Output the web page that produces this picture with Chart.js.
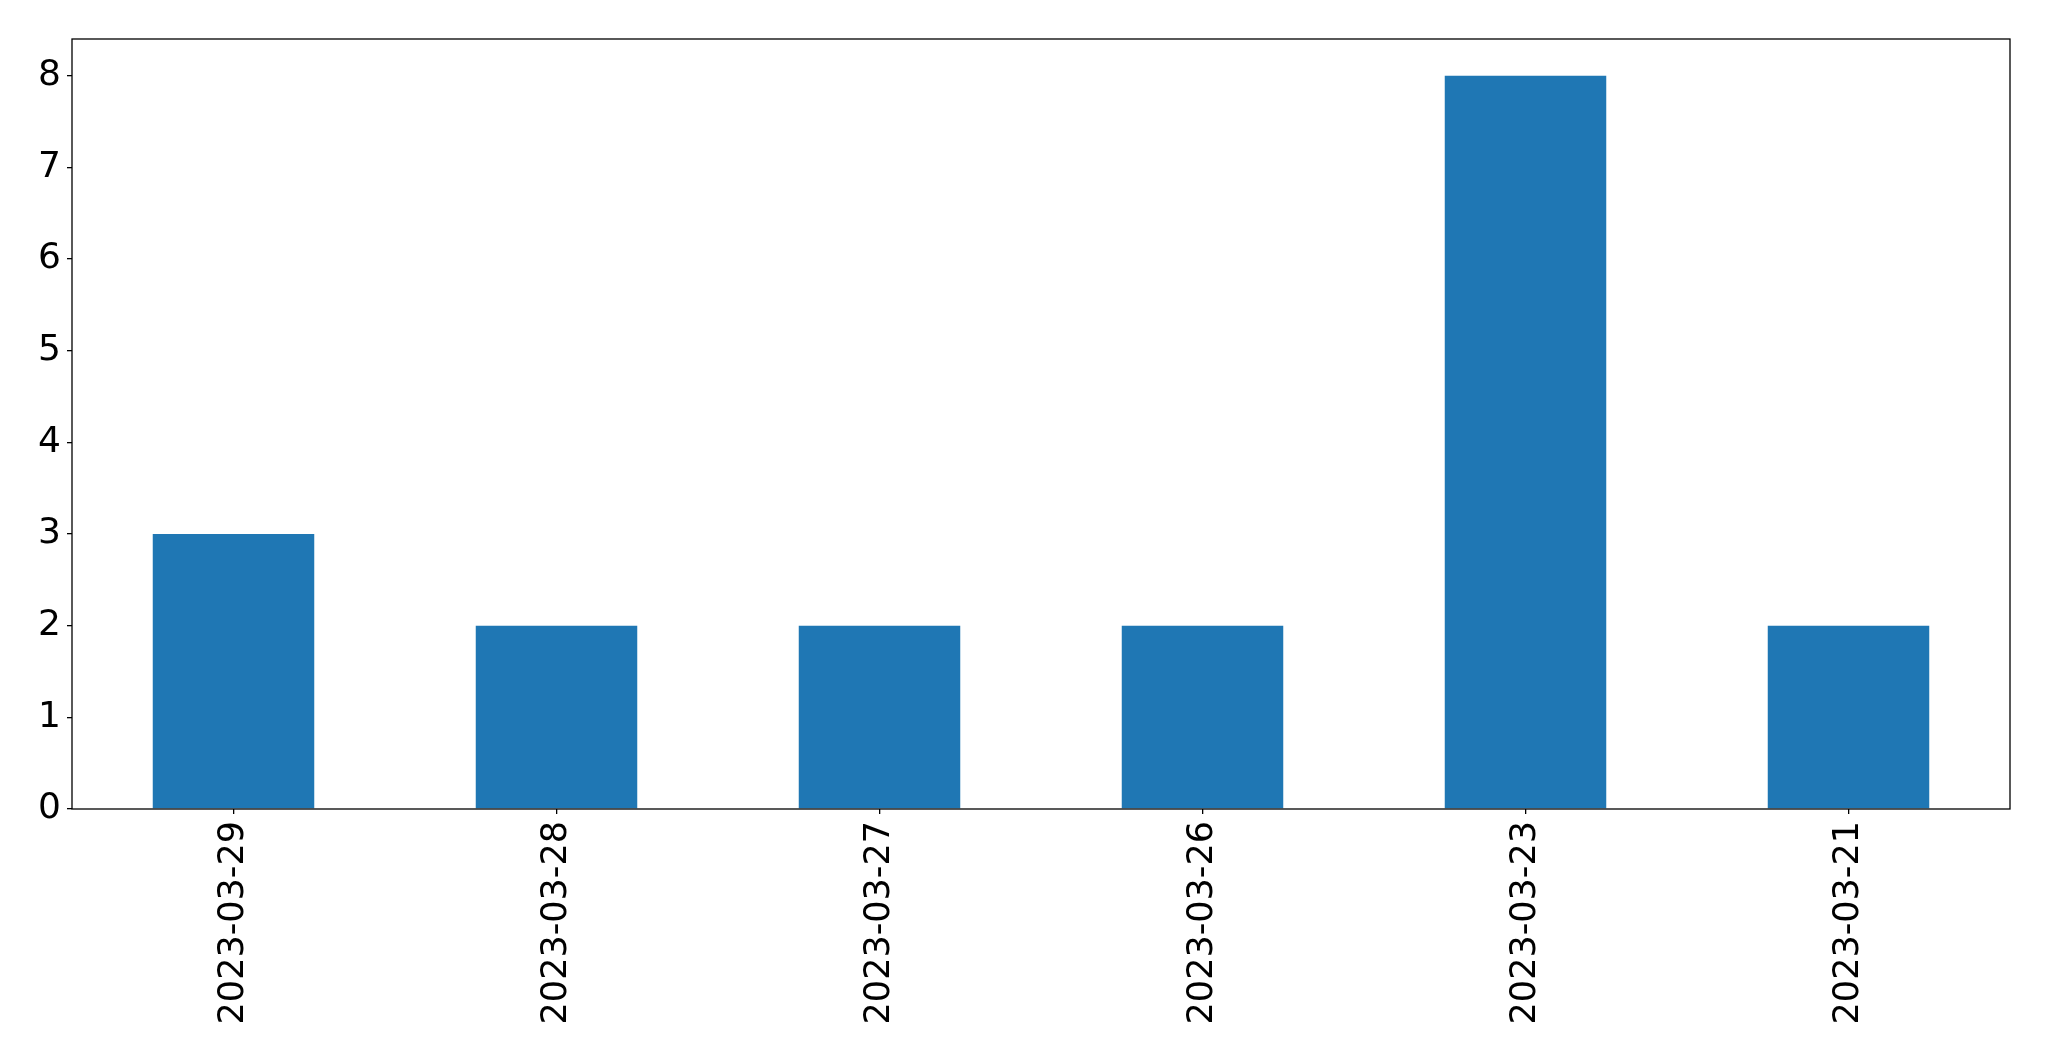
<!DOCTYPE html>
<html>
<head>
<meta charset="utf-8">
<script src="https://cdn.jsdelivr.net/npm/chart.js@4/dist/chart.umd.min.js"></script>
<style>
  html, body { margin: 0; padding: 0; background: #fff; }
  #wrap { width: 2049px; height: 1061px; }
</style>
</head>
<body>
<div id="wrap"><canvas id="myChart" width="2049" height="1061"></canvas></div>
<script>
const labels = ["2023-03-29", "2023-03-28", "2023-03-27", "2023-03-26", "2023-03-23", "2023-03-21"];
const counts = [3, 2, 2, 2, 8, 2];
const yTicks = [0, 1, 2, 3, 4, 5, 6, 7, 8];

// frame round the plot area, like the matplotlib axes box
const frame = {
  id: "frame",
  afterDraw(chart) {
    const a = chart.chartArea;
    const c = chart.ctx;
    c.save();
    c.strokeStyle = "#000";
    c.lineWidth = 1.3;
    c.strokeRect(a.left, a.top, a.right - a.left, a.bottom - a.top);
    c.restore();
  }
};

const ctx = document.getElementById("myChart");
new Chart(ctx, {
  type: "bar",
  data: {
    labels: labels,
    datasets: [
      {
        data: counts,
        backgroundColor: "#1f77b4",
        borderWidth: 0,
        barPercentage: 0.5,
        categoryPercentage: 1.0,
      }
    ],
  },
  options: {
    responsive: false,
    animation: false,
    layout: { padding: { top: 39, right: 39, left: 0, bottom: 0 } },
    plugins: { legend: { display: false }, tooltip: { enabled: false } },
    scales: {
      x: {
        grid: { offset: false, drawOnChartArea: false, drawTicks: true, tickLength: 5, color: "#000", lineWidth: 1.3 },
        border: { display: false },
        ticks: {
          color: "#000",
          font: { family: "DejaVu Sans", size: 35 },
          maxRotation: 90,
          minRotation: 90,
          padding: 7,
        },
        afterFit(scale) { scale.height = 252; },
      },
      y: {
        min: 0,
        max: 8.4,
        afterBuildTicks(scale) { scale.ticks = yTicks.map(v => ({ value: v })); },
        grid: { drawOnChartArea: false, drawTicks: true, tickLength: 5, color: "#000", lineWidth: 1.3 },
        border: { display: false },
        ticks: {
          color: "#000",
          font: { family: "DejaVu Sans", size: 36 },
          padding: 6,
        },
        afterFit(scale) { scale.width = 72; },
      }
    },
  },
  plugins: [frame],
});
</script>
</body>
</html>
